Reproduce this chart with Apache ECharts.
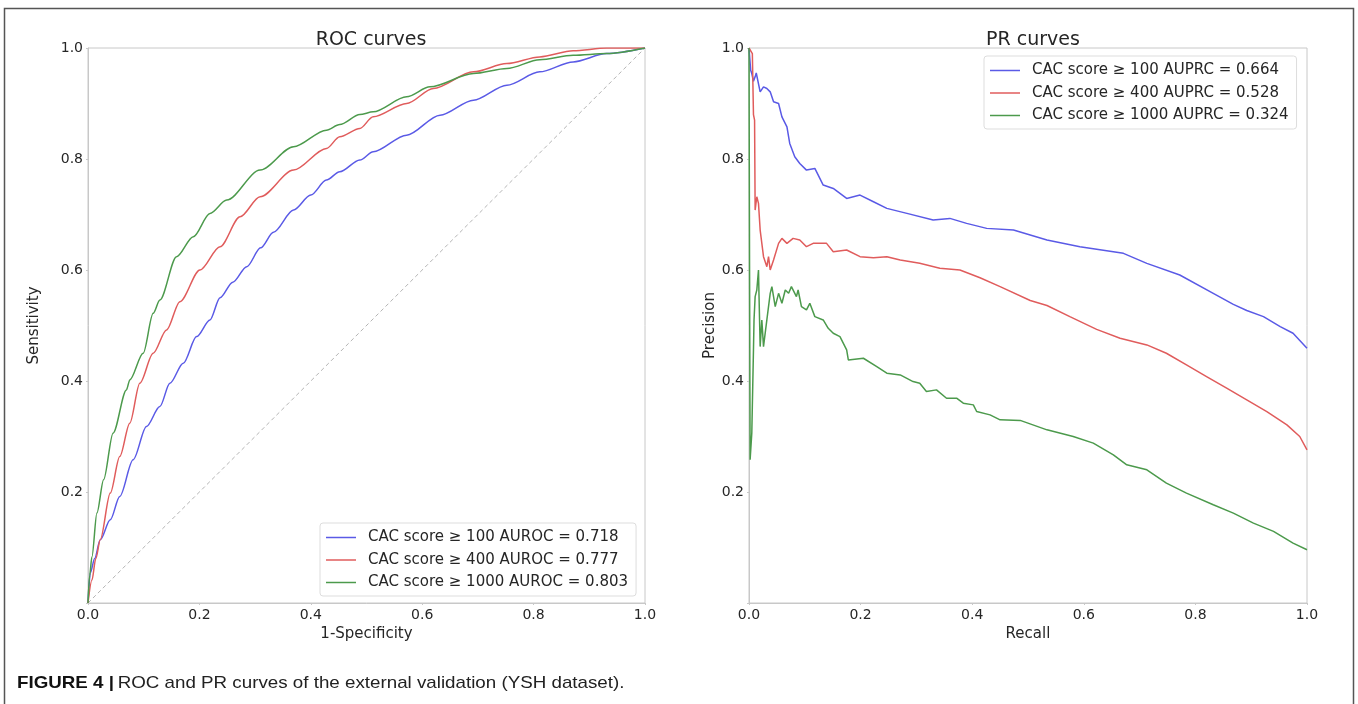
<!DOCTYPE html>
<html>
<head>
<meta charset="utf-8">
<script src="https://cdn.jsdelivr.net/npm/echarts@6/dist/echarts.min.js"></script>
<style>
  html, body { margin: 0; padding: 0; background: #fff; }
  #chart { width: 1358px; height: 704px; }
</style>
</head>
<body>
<div id="chart"></div>
<script>
// ROC curves, points are [1-specificity, sensitivity]
const rocNames = [
  'CAC score \u2265 100 AUROC = 0.718',
  'CAC score \u2265 400 AUROC = 0.777',
  'CAC score \u2265 1000 AUROC = 0.803'
]
const roc100 = [[0,0],[0.004,0.054],[0.012,0.08],[0.022,0.114],[0.04,0.15],[0.057,0.192],[0.081,0.258],[0.105,0.318],[0.129,0.354],[0.147,0.396],[0.171,0.432],[0.195,0.48],[0.219,0.51],[0.237,0.55],[0.26,0.578],[0.285,0.606],[0.31,0.64],[0.333,0.668],[0.369,0.708],[0.4,0.735],[0.428,0.762],[0.452,0.777],[0.488,0.798],[0.512,0.813],[0.572,0.843],[0.632,0.879],[0.692,0.906],[0.752,0.933],[0.811,0.957],[0.871,0.975],[0.931,0.99],[1,1]]
const roc400 = [[0,0],[0.007,0.041],[0.014,0.08],[0.022,0.114],[0.04,0.198],[0.057,0.264],[0.075,0.324],[0.093,0.396],[0.117,0.45],[0.141,0.492],[0.165,0.543],[0.201,0.6],[0.237,0.642],[0.273,0.696],[0.309,0.732],[0.369,0.78],[0.428,0.819],[0.452,0.84],[0.488,0.855],[0.512,0.876],[0.572,0.9],[0.62,0.927],[0.692,0.957],[0.752,0.972],[0.811,0.984],[0.871,0.995],[0.931,1],[1,1]]
const roc1000 = [[0,0],[0.003,0.05],[0.007,0.083],[0.016,0.162],[0.028,0.222],[0.045,0.306],[0.069,0.384],[0.075,0.402],[0.099,0.45],[0.117,0.522],[0.129,0.546],[0.159,0.624],[0.189,0.66],[0.219,0.702],[0.249,0.726],[0.309,0.78],[0.369,0.822],[0.428,0.852],[0.452,0.862],[0.488,0.88],[0.512,0.885],[0.572,0.912],[0.614,0.93],[0.692,0.954],[0.752,0.963],[0.811,0.979],[0.871,0.987],[0.931,0.99],[1,1]]
const chanceLine = [[0,0],[1,1]]

// PR curves, points are [recall, precision]
const prNames = [
  'CAC score \u2265 100 AUPRC = 0.664',
  'CAC score \u2265 400 AUPRC = 0.528',
  'CAC score \u2265 1000 AUPRC = 0.324'
]
const pr100 = [[0,1],[0.003,0.96],[0.005,0.954],[0.008,0.94],[0.011,0.948],[0.013,0.955],[0.02,0.921],[0.026,0.93],[0.032,0.927],[0.038,0.921],[0.044,0.903],[0.053,0.9],[0.059,0.876],[0.068,0.858],[0.073,0.828],[0.082,0.804],[0.091,0.792],[0.103,0.78],[0.118,0.783],[0.133,0.753],[0.151,0.747],[0.175,0.729],[0.199,0.735],[0.223,0.723],[0.247,0.711],[0.283,0.702],[0.33,0.69],[0.36,0.693],[0.39,0.684],[0.426,0.675],[0.474,0.672],[0.534,0.654],[0.593,0.642],[0.671,0.63],[0.713,0.612],[0.772,0.591],[0.832,0.558],[0.868,0.538],[0.892,0.527],[0.922,0.516],[0.952,0.498],[0.975,0.486],[1,0.459]]
const pr400 = [[0,1],[0.006,0.99],[0.008,0.88],[0.01,0.87],[0.011,0.708],[0.014,0.732],[0.017,0.72],[0.02,0.672],[0.026,0.624],[0.032,0.606],[0.035,0.624],[0.038,0.6],[0.044,0.618],[0.053,0.648],[0.059,0.657],[0.068,0.648],[0.079,0.657],[0.091,0.654],[0.103,0.642],[0.115,0.648],[0.139,0.648],[0.151,0.633],[0.175,0.636],[0.199,0.624],[0.223,0.622],[0.247,0.624],[0.271,0.618],[0.306,0.612],[0.342,0.603],[0.378,0.6],[0.414,0.586],[0.45,0.57],[0.504,0.545],[0.534,0.536],[0.575,0.516],[0.623,0.493],[0.665,0.477],[0.713,0.465],[0.748,0.45],[0.784,0.429],[0.82,0.408],[0.856,0.387],[0.892,0.366],[0.928,0.345],[0.964,0.321],[0.987,0.3],[1,0.276]]
const pr1000 = [[0,1],[0.001,0.6],[0.002,0.258],[0.005,0.306],[0.008,0.456],[0.009,0.51],[0.011,0.552],[0.014,0.564],[0.017,0.6],[0.018,0.552],[0.02,0.462],[0.023,0.51],[0.026,0.462],[0.032,0.51],[0.038,0.558],[0.041,0.57],[0.047,0.534],[0.053,0.558],[0.059,0.54],[0.065,0.564],[0.071,0.558],[0.076,0.57],[0.085,0.552],[0.088,0.564],[0.094,0.534],[0.103,0.528],[0.109,0.54],[0.118,0.516],[0.133,0.51],[0.142,0.495],[0.151,0.486],[0.163,0.48],[0.175,0.456],[0.178,0.438],[0.205,0.441],[0.229,0.426],[0.247,0.414],[0.271,0.411],[0.294,0.399],[0.306,0.396],[0.318,0.381],[0.336,0.384],[0.354,0.369],[0.372,0.369],[0.384,0.36],[0.402,0.357],[0.408,0.345],[0.432,0.339],[0.45,0.33],[0.486,0.329],[0.534,0.312],[0.581,0.3],[0.617,0.288],[0.653,0.267],[0.677,0.249],[0.713,0.24],[0.748,0.216],[0.784,0.198],[0.832,0.177],[0.868,0.162],[0.904,0.144],[0.94,0.129],[0.975,0.108],[1,0.096]]

const captionBold = 'FIGURE 4 |'
const captionText = 'ROC and PR curves of the external validation (YSH dataset).'

const colors = ['#5a5ae6', '#e05c5c', '#4c9a4c']
const FONT = 'DejaVu Sans'
const TEXT = '#262626'

function axis(gridIndex, name, nameGap, hideZero) {
  return {
    type: 'value',
    gridIndex,
    min: 0,
    max: 1,
    interval: 0.2,
    name,
    nameLocation: 'middle',
    nameGap,
    nameTextStyle: { fontFamily: FONT, fontSize: 15, color: TEXT },
    axisLine: { show: true, lineStyle: { color: '#c8c8c8', width: 1 } },
    axisTick: { show: true, length: 2, lineStyle: { color: '#c8c8c8' } },
    splitLine: { show: false },
    axisLabel: {
      fontFamily: FONT,
      fontSize: 14,
      color: TEXT,
      margin: 5,
      formatter: v => (hideZero && v === 0 ? '' : v.toFixed(1))
    }
  }
}

function curve(name, data, i, xi, smooth) {
  return {
    name,
    type: 'line',
    xAxisIndex: xi,
    yAxisIndex: xi,
    data,
    symbol: 'none',
    smooth,
    smoothMonotone: 'x',
    lineStyle: { color: colors[i], width: 1.5 },
    itemStyle: { color: colors[i] },
    animation: false
  }
}

function legend(data, left, top) {
  return {
    data,
    orient: 'vertical',
    left,
    top,
    icon: 'rect',
    itemWidth: 30,
    itemHeight: 1.5,
    itemGap: 7.5,
    padding: [7, 8, 6, 6],
    backgroundColor: '#fff',
    borderColor: '#dddddd',
    borderWidth: 1,
    borderRadius: 3,
    selectedMode: false,
    textStyle: { fontFamily: FONT, fontSize: 15, color: TEXT, padding: [0, 0, 0, 7] }
  }
}

// caption in a condensed look: squeeze a regular sans to the width it takes in the figure
const ctx = document.createElement('canvas').getContext('2d')
ctx.font = 'bold 17px "Liberation Sans"'
let capW = ctx.measureText(captionBold + ' ').width
ctx.font = '17px "Liberation Sans"'
capW += ctx.measureText(captionText).width
const capScale = 609 / capW

const chart = echarts.init(document.getElementById('chart'))
chart.setOption({
  animation: false,
  backgroundColor: '#fff',
  title: [
    { text: 'ROC curves', left: 366, top: 26, textAlign: 'center',
      textStyle: { fontFamily: FONT, fontSize: 19, fontWeight: 'normal', color: TEXT } },
    { text: 'PR curves', left: 1028, top: 26, textAlign: 'center',
      textStyle: { fontFamily: FONT, fontSize: 19, fontWeight: 'normal', color: TEXT } }
  ],
  grid: [
    { left: 88, top: 48, width: 557, height: 555, show: true, borderColor: '#c8c8c8', borderWidth: 1 },
    { left: 749, top: 48, width: 558, height: 555, show: true, borderColor: '#c8c8c8', borderWidth: 1 }
  ],
  xAxis: [axis(0, '1-Specificity', 17, false), axis(1, 'Recall', 17, false)],
  yAxis: [axis(0, 'Sensitivity', 46, true), axis(1, 'Precision', 22, true)],
  legend: [legend(rocNames, 320, 523), legend(prNames, 984, 56)],
  series: [
    {
      type: 'line', xAxisIndex: 0, yAxisIndex: 0, data: chanceLine, symbol: 'none', silent: true,
      lineStyle: { color: '#b4b4b4', width: 1, type: [4, 3] }
    },
    curve(rocNames[0], roc100, 0, 0, 0.3),
    curve(rocNames[1], roc400, 1, 0, 0.3),
    curve(rocNames[2], roc1000, 2, 0, 0.3),
    curve(prNames[0], pr100, 0, 1, false),
    curve(prNames[1], pr400, 1, 1, false),
    curve(prNames[2], pr1000, 2, 1, false)
  ],
  graphic: [
    {
      type: 'rect',
      shape: { x: 4.5, y: 8.5, width: 1349, height: 720 },
      style: { fill: 'none', stroke: '#555', lineWidth: 1.5 },
      silent: true
    },
    {
      type: 'text',
      x: 17,
      y: 675,
      scaleX: capScale,
      style: {
        text: '{b|' + captionBold + '} {n|' + captionText + '}',
        rich: {
          b: { fontFamily: 'Liberation Sans', fontSize: 17, fontWeight: 'bold', fill: '#111' },
          n: { fontFamily: 'Liberation Sans', fontSize: 17, fill: '#222' }
        }
      }
    }
  ]
})
</script>
</body>
</html>
